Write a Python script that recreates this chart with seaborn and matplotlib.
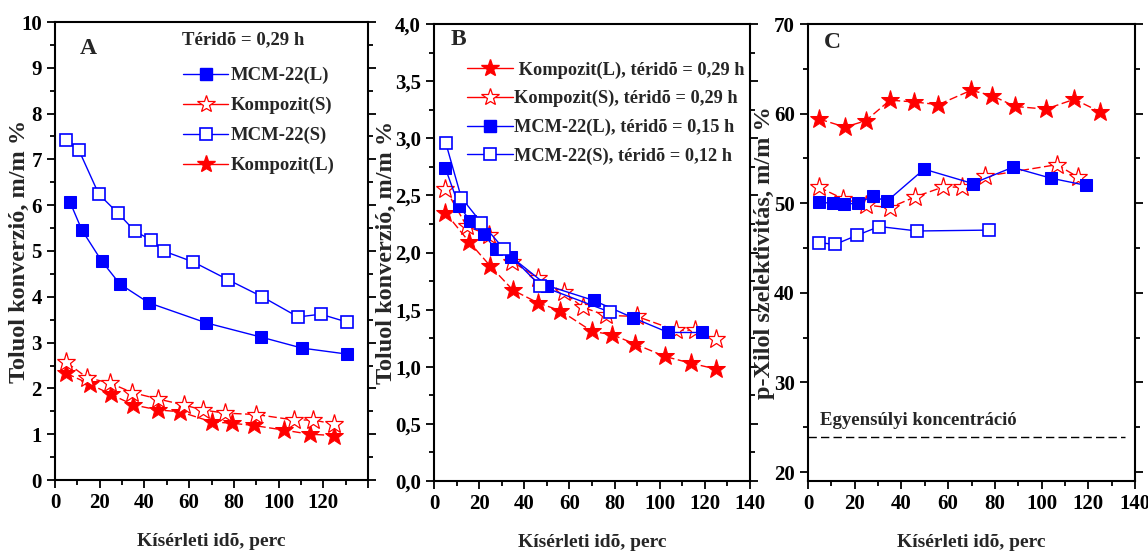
import matplotlib
matplotlib.use("Agg")
import matplotlib.pyplot as plt
from matplotlib.lines import Line2D
from matplotlib.ticker import MultipleLocator, FuncFormatter
import seaborn as sns
import pandas as pd

# ---------------- data ----------------
# Panel A (residence time 0.29 h)
A_mcmL_x = [6.7, 12.0, 20.9, 29.0, 41.9, 67.7, 92.2, 110.5, 130.5]
A_mcmL_y = [6.07, 5.46, 4.78, 4.28, 3.87, 3.43, 3.12, 2.88, 2.75]
A_mcmS_x = [4.9, 10.7, 19.6, 28.1, 35.6, 42.8, 48.6, 61.9, 77.5, 92.7, 108.7, 118.9, 130.5]
A_mcmS_y = [7.42, 7.20, 6.24, 5.83, 5.44, 5.24, 5.00, 4.76, 4.37, 4.00, 3.56, 3.62, 3.45]
A_kompS_x = [5, 14.5, 24.5, 34.5, 46, 57.5, 66, 76, 90, 107, 115.5, 125]
A_kompS_y = [2.57, 2.23, 2.12, 1.91, 1.77, 1.64, 1.53, 1.46, 1.43, 1.31, 1.31, 1.22]
A_kompL_x = [5, 15.7, 25, 35, 46, 56, 70, 79, 89, 102.3, 114, 125]
A_kompL_y = [2.33, 2.09, 1.87, 1.64, 1.53, 1.49, 1.27, 1.24, 1.19, 1.09, 1.00, 0.97]

# Panel B
B_kompL_x = [5, 15.7, 25, 35, 46, 56, 70, 79, 89, 102.3, 114, 125]
B_kompL_y = [2.35, 2.09, 1.88, 1.67, 1.56, 1.49, 1.31, 1.28, 1.20, 1.09, 1.03, 0.98]
B_kompS_x = [5, 14.5, 24.5, 34.5, 46, 57.5, 66, 76, 90, 107, 115.5, 125]
B_kompS_y = [2.56, 2.23, 2.15, 1.92, 1.78, 1.65, 1.52, 1.45, 1.44, 1.32, 1.32, 1.24]
B_mcmL_x = [5, 11, 16, 22, 27.3, 34.3, 50.2, 70.8, 88, 103.8, 118.9]
B_mcmL_y = [2.74, 2.41, 2.28, 2.16, 2.03, 1.96, 1.71, 1.58, 1.43, 1.30, 1.30]
B_mcmS_x = [5.2, 12.1, 21, 31, 47, 77.8]
B_mcmS_y = [2.96, 2.48, 2.26, 2.03, 1.71, 1.48]

# Panel C (p-xylene selectivity)
C_kompL_x = [4.7, 15.8, 24.7, 35.1, 45.5, 55.8, 69.8, 78.9, 88.6, 101.8, 114, 125]
C_kompL_y = [59.4, 58.5, 59.2, 61.5, 61.3, 61.0, 62.6, 62.0, 60.8, 60.5, 61.6, 60.2]
C_kompS_x = [4.5, 15, 25, 35, 45.8, 57.7, 65.8, 75.8, 106.5, 115.7]
C_kompS_y = [51.8, 50.5, 49.8, 49.5, 50.7, 51.8, 51.8, 53.0, 54.3, 52.9]
C_mcmL_x = [4.7, 10.6, 15.5, 21.5, 27.7, 33.7, 49.7, 70.5, 87.6, 103.9, 118.9]
C_mcmL_y = [50.1, 50.0, 49.9, 50.0, 50.8, 50.2, 53.8, 52.2, 54.0, 52.8, 52.0]
C_mcmS_x = [4.7, 11.6, 20.8, 30.5, 46.8, 77.6]
C_mcmS_y = [45.6, 45.4, 46.4, 47.4, 46.9, 47.0]
C_equilibrium = 23.9

A_labels = ["MCM-22(L)", "Kompozit(S)", "MCM-22(S)", "Kompozit(L)"]
B_labels = [" Kompozit(L), téridõ = 0,29 h", "Kompozit(S), téridõ = 0,29 h",
            "MCM-22(L), téridõ = 0,15 h", "MCM-22(S), téridõ = 0,12 h"]
x_label = "Kísérleti idõ, perc"
yA_label = "Toluol konverzió, m/m %"
yC_label = "p-Xilol szelektivitás, m/m %"

# ---------------- style ----------------
sns.set_style("ticks")
plt.rcParams["font.family"] = ["Liberation Serif", "DejaVu Serif"]
plt.rcParams["font.weight"] = "bold"
plt.rcParams["axes.labelweight"] = "bold"

BLUE = "#0000ff"
RED = "#ff0000"
DASH = (0, (6, 2.5))

styles = {
    "mcmL": dict(color=BLUE, marker="s", markersize=9, markerfacecolor=BLUE,
                 markeredgecolor=BLUE, linestyle="-", linewidth=1.0),
    "mcmS": dict(color=BLUE, marker="s", markersize=9, markerfacecolor="white",
                 markeredgecolor=BLUE, markeredgewidth=1.2, linestyle="-", linewidth=1.0),
    "kompL": dict(color=RED, marker="*", markersize=14, markerfacecolor=RED,
                  markeredgecolor=RED, linestyle=DASH, linewidth=1.0),
    "kompS": dict(color=RED, marker="*", markersize=14, markerfacecolor="white",
                  markeredgecolor=RED, markeredgewidth=0.9, linestyle=DASH, linewidth=1.0),
}


def draw(ax, x, y, key):
    df = pd.DataFrame({"x": x, "y": y})
    sns.lineplot(data=df, x="x", y="y", ax=ax, sort=False, estimator=None, **styles[key])


def handle(key):
    st = dict(styles[key])
    st["linestyle"] = "-"
    st["markersize"] = st["markersize"] * 0.95
    return Line2D([], [], **st)


fig = plt.figure(figsize=(11.48, 5.52), dpi=100)
W, H = 1148, 552


def mk_ax(l, r, t, b):
    return fig.add_axes([l / W, (H - b) / H, (r - l) / W, (b - t) / H])


axA = mk_ax(55, 368, 22, 480)
axB = mk_ax(434, 750, 24, 481)
axC = mk_ax(808, 1135, 24, 481)

# Panel A
draw(axA, A_kompL_x, A_kompL_y, "kompL")
draw(axA, A_kompS_x, A_kompS_y, "kompS")
draw(axA, A_mcmL_x, A_mcmL_y, "mcmL")
draw(axA, A_mcmS_x, A_mcmS_y, "mcmS")
axA.set_xlim(0, 140)
axA.set_ylim(0, 10)
axA.xaxis.set_major_locator(MultipleLocator(20))
axA.xaxis.set_minor_locator(MultipleLocator(10))
axA.yaxis.set_major_locator(MultipleLocator(1))
axA.yaxis.set_minor_locator(MultipleLocator(0.5))
axA.xaxis.set_major_formatter(FuncFormatter(lambda v, p: "" if v > 125 else f"{v:.0f}"))
axA.legend([handle(k) for k in ["mcmL", "kompS", "mcmS", "kompL"]], A_labels,
           loc="upper left", bbox_to_anchor=(0.41, 0.902), frameon=False,
           fontsize=13.5, handlelength=2.4, handletextpad=0.1, labelspacing=0.68,
           borderpad=0, borderaxespad=0)
axA.text(0.60, 0.962, "Téridõ = 0,29 h", transform=axA.transAxes, ha="center",
         va="center", fontsize=13.5, fontweight="bold")
axA.text(0.105, 0.943, "A", transform=axA.transAxes, ha="center", va="center",
         fontsize=17, fontweight="bold")
axA.set_ylabel(yA_label, fontsize=17.5)
axA.yaxis.set_label_coords(-0.08, 0.5)

# Panel B
draw(axB, B_kompL_x, B_kompL_y, "kompL")
draw(axB, B_kompS_x, B_kompS_y, "kompS")
draw(axB, B_mcmL_x, B_mcmL_y, "mcmL")
draw(axB, B_mcmS_x, B_mcmS_y, "mcmS")
axB.set_xlim(0, 140)
axB.set_ylim(0, 4)
axB.xaxis.set_major_locator(MultipleLocator(20))
axB.xaxis.set_minor_locator(MultipleLocator(10))
axB.yaxis.set_major_locator(MultipleLocator(0.5))
axB.yaxis.set_minor_locator(MultipleLocator(0.25))
axB.yaxis.set_major_formatter(FuncFormatter(lambda v, p: f"{v:.1f}".replace(".", ",")))
axB.legend([handle(k) for k in ["kompL", "kompS", "mcmL", "mcmS"]], B_labels,
           loc="upper left", bbox_to_anchor=(0.105, 0.918), frameon=False,
           fontsize=13.2, handlelength=2.5, handletextpad=0.05, labelspacing=0.62,
           borderpad=0, borderaxespad=0)
axB.text(0.076, 0.965, "B", transform=axB.transAxes, ha="center", va="center",
         fontsize=17, fontweight="bold")
axB.set_ylabel(yA_label, fontsize=17.5)
axB.yaxis.set_label_coords(-0.117, 0.5)

# Panel C
draw(axC, C_kompL_x, C_kompL_y, "kompL")
draw(axC, C_kompS_x, C_kompS_y, "kompS")
draw(axC, C_mcmL_x, C_mcmL_y, "mcmL")
draw(axC, C_mcmS_x, C_mcmS_y, "mcmS")
axC.axhline(C_equilibrium, xmin=0, xmax=135.7 / 140, color="black", linestyle=(0, (6, 3)),
            linewidth=1.0)
axC.text(5, C_equilibrium + 0.9, "Egyensúlyi koncentráció", ha="left", va="bottom",
         fontsize=13.5, fontweight="bold")
axC.set_xlim(0, 140)
axC.set_ylim(19, 70)
axC.xaxis.set_major_locator(MultipleLocator(20))
axC.xaxis.set_minor_locator(MultipleLocator(10))
axC.set_yticks([20, 30, 40, 50, 60, 70])
axC.yaxis.set_minor_locator(MultipleLocator(5))
axC.text(0.076, 0.96, "C", transform=axC.transAxes, ha="center", va="center",
         fontsize=17, fontweight="bold")
axC.set_ylabel(yC_label, fontsize=17.5)
axC.yaxis.set_label_coords(-0.10, 0.5)

for ax in (axA, axB, axC):
    ax.set_xlabel(x_label, fontsize=14)
    ax.xaxis.set_label_coords(0.5, -0.115)
    for s in ax.spines.values():
        s.set_linewidth(1.5)
        s.set_color("black")
    ax.tick_params(which="both", direction="out", left=True, right=True, bottom=True,
                   top=False, labelsize=15, width=1.3, colors="black")
    ax.tick_params(which="major", length=6)
    ax.tick_params(which="minor", length=3.5)
    for lab in ax.get_xticklabels() + ax.get_yticklabels():
        lab.set_fontweight("bold")

fig.savefig("out.png", dpi=100)
